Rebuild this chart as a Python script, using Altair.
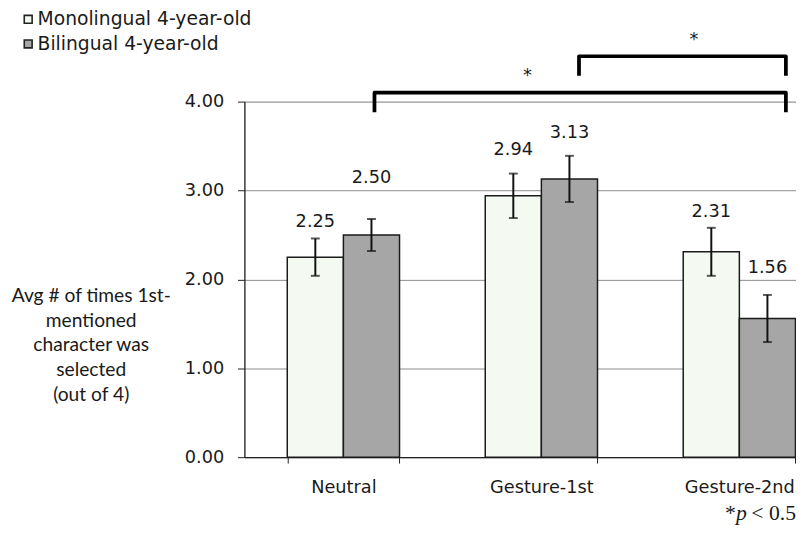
import altair as alt
import pandas as pd

# ---- data ----
categories = ["Neutral", "Gesture-1st", "Gesture-2nd"]
groups = ["Monolingual 4-year-old", "Bilingual 4-year-old"]
mono_means = [2.25, 2.94, 2.31]
bi_means = [2.50, 3.13, 1.56]
mono_err = [0.21, 0.25, 0.27]
bi_err = [0.18, 0.26, 0.265]
# heights (in data units) at which the value labels sit
mono_label_y = [2.645, 3.46, 2.757]
bi_label_y = [3.136, 3.65, 2.13]

# significance brackets (x in category units from the axis origin)
bracket_from = [0.657, 1.69]
bracket_to = [2.735, 2.735]
bracket_level = [4.10, 4.51]
bracket_drop = 0.22
star_x = [1.43, 2.27]
star_y = [4.31, 4.71]

y_title = ["Avg # of times 1st-", "mentioned", "character was", "selected", "(out of 4)"]

rows = []
for i, c in enumerate(categories):
    rows.append(dict(cat=c, group=groups[0], mean=mono_means[i], err=mono_err[i], ly=mono_label_y[i]))
    rows.append(dict(cat=c, group=groups[1], mean=bi_means[i], err=bi_err[i], ly=bi_label_y[i]))
df = pd.DataFrame(rows)
df["lo"] = df["mean"] - df["err"]
df["hi"] = df["mean"] + df["err"]

brows = []
for i in range(len(bracket_from)):
    pts = [(bracket_from[i], bracket_level[i] - bracket_drop),
           (bracket_from[i], bracket_level[i]),
           (bracket_to[i], bracket_level[i]),
           (bracket_to[i], bracket_level[i] - bracket_drop)]
    for k, (bx, by) in enumerate(pts):
        brows.append(dict(b=i, o=k, bx=bx, by=by))
bdf = pd.DataFrame(brows)
sdf = pd.DataFrame(dict(sx=star_x, sy=star_y, t=["*", "*"]))

FONT = "DejaVu Sans"
TXT = "#1a1a1a"
STEP = 201

xband = alt.X("cat:N", sort=categories,
              scale=alt.Scale(range=[0, 3 * STEP], paddingInner=0.433, paddingOuter=0.2165),
              axis=alt.Axis(title=None, labelAngle=0, labelFont=FONT, labelFontSize=18,
                            labelColor=TXT, tickBand="extent", tickSize=6, tickColor="#222",
                            domainColor="#222", domainWidth=1.3, labelPadding=16, grid=False))
xoff = alt.XOffset("group:N", sort=groups, scale=alt.Scale(paddingInner=0, paddingOuter=0))
ydom = alt.Scale(domain=[0, 4], nice=False, zero=True)

yaxis = alt.Axis(title=y_title, titleAngle=0, titleAlign="center", titleBaseline="middle",
                 titleX=-156, titleY=197, titleFont="Lato", titleFontSize=19.5,
                 titleFontWeight="normal", titleColor=TXT, titleLineHeight=25,
                 values=[0, 1, 2, 3, 4], format=".2f", labelFont=FONT, labelFontSize=18,
                 labelColor=TXT, labelPadding=14, tickSize=7, tickColor="#222",
                 domainColor="#222", domainWidth=1.3, grid=True, gridColor="#8a8a8a",
                 gridWidth=1)

base = alt.Chart(df)
bars = base.mark_bar(stroke="#1a1a1a", strokeWidth=1.5).encode(
    x=xband, xOffset=xoff,
    y=alt.Y("mean:Q", scale=ydom, axis=yaxis),
    color=alt.Color("group:N", sort=groups,
                    scale=alt.Scale(domain=groups, range=["#f4faf2", "#a6a6a6"]),
                    legend=alt.Legend(title=None, orient="none", legendX=-229, legendY=-93,
                                      direction="vertical", symbolType="square",
                                      symbolSize=64, symbolStrokeColor="#222",
                                      symbolStrokeWidth=1.6, labelFont=FONT,
                                      labelFontSize=19, labelColor=TXT, rowPadding=5,
                                      padding=0, labelOffset=0, labelLimit=0)),
)
err = base.mark_rule(color="#111", strokeWidth=2).encode(
    x=alt.X("cat:N", sort=categories), xOffset=xoff,
    y=alt.Y("lo:Q", scale=ydom), y2="hi:Q")
cap_hi = base.mark_tick(color="#111", thickness=2, size=9).encode(
    x=alt.X("cat:N", sort=categories), xOffset=xoff, y=alt.Y("hi:Q", scale=ydom))
cap_lo = base.mark_tick(color="#111", thickness=2, size=9).encode(
    x=alt.X("cat:N", sort=categories), xOffset=xoff, y=alt.Y("lo:Q", scale=ydom))
labels = base.mark_text(font=FONT, fontSize=18, color=TXT, baseline="middle").encode(
    x=alt.X("cat:N", sort=categories), xOffset=xoff,
    y=alt.Y("ly:Q", scale=ydom), text=alt.Text("mean:Q", format=".2f"))

main = alt.layer(bars, err, cap_hi, cap_lo, labels)

qx = alt.Scale(domain=[0, 3], range=[0, 3 * STEP], nice=False, zero=False)
brackets = alt.Chart(bdf).mark_line(color="black", strokeWidth=3.8, strokeJoin="round").encode(
    x=alt.X("bx:Q", scale=qx, axis=None),
    y=alt.Y("by:Q", scale=ydom),
    detail="b:N", order="o:Q")
stars = alt.Chart(sdf).mark_text(font=FONT, fontSize=18, color=TXT, baseline="middle", dy=2).encode(
    x=alt.X("sx:Q", scale=qx, axis=None),
    y=alt.Y("sy:Q", scale=ydom), text="t:N")

one = alt.Data(values=[{"a": 1}])
foot1 = alt.Chart(one).mark_text(text="*", font="Liberation Serif", fontSize=22, color=TXT,
                                 align="right", baseline="alphabetic").encode(
    x=alt.value(499), y=alt.value(425))
foot2 = alt.Chart(one).mark_text(text="p", font="Liberation Serif", fontSize=22, color=TXT,
                                 fontStyle="italic", align="left", baseline="alphabetic").encode(
    x=alt.value(499), y=alt.value(425))
foot3 = alt.Chart(one).mark_text(text="< 0.5", font="Liberation Serif", fontSize=22, color=TXT,
                                 align="right", baseline="alphabetic").encode(
    x=alt.value(560), y=alt.value(425))

overlay = alt.layer(brackets, stars, foot1, foot2, foot3)

chart = alt.layer(main, overlay).resolve_scale(x="independent").properties(
    width=560, height=361,
    autosize=alt.AutoSizeParams(type="none"),
    padding={"left": 240, "top": 91, "right": 0, "bottom": 75},
).configure_view(stroke=None).configure(background="white")

chart.save("out.html", embed_options={"renderer": "svg", "actions": False})
